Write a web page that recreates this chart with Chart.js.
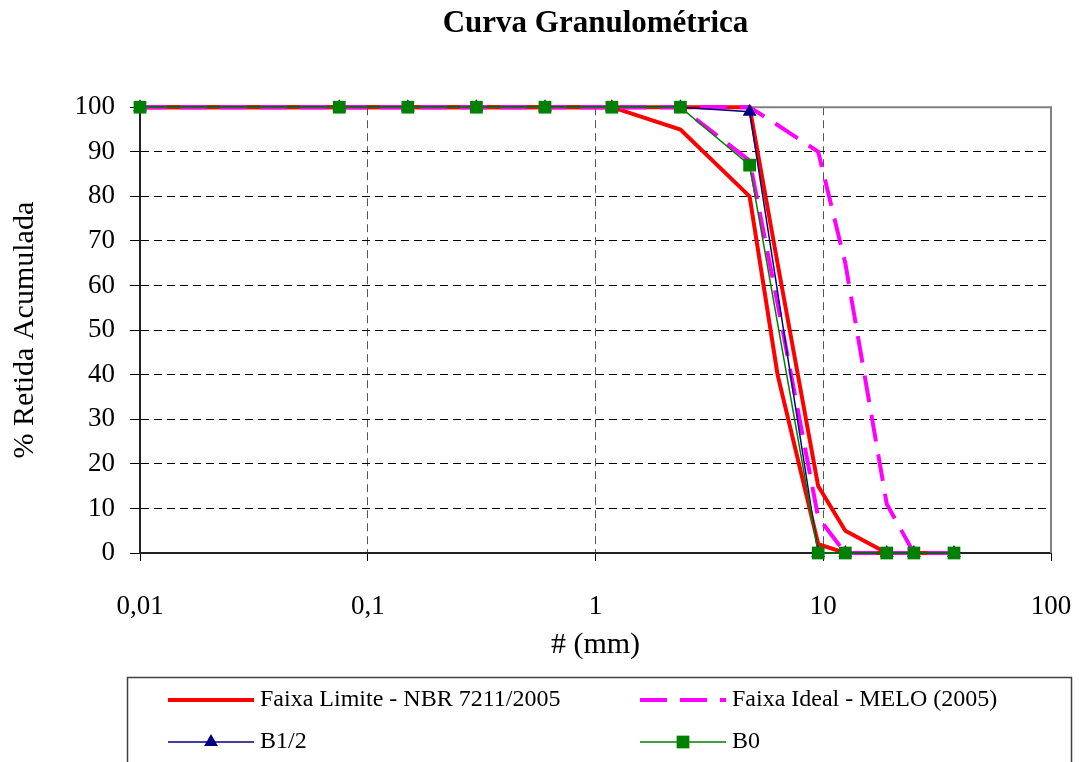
<!DOCTYPE html>
<html>
<head>
<meta charset="utf-8">
<title>Curva Granulométrica</title>
<script src="https://cdn.jsdelivr.net/npm/chart.js@4.4.0/dist/chart.umd.min.js"></script>
<style>
  body { margin: 0; background: #fff; }
  #wrap { width: 1081px; height: 762px; }
</style>
</head>
<body>
<div id="wrap"><canvas id="curva" width="1081" height="762"></canvas></div>
<script>
// sieve openings (mm)
const sampleSieves = [0.01, 0.075, 0.15, 0.3, 0.6, 1.18, 2.36, 4.75, 9.5, 12.5, 19, 25, 37.5];
const bandSieves = [0.01, 0.075, 0.15, 0.3, 0.6, 1.18, 2.36, 4.75, 6.3, 9.5, 12.5, 19, 25, 37.5];

// % retida acumulada
const b0 = [100, 100, 100, 100, 100, 100, 100, 87, 0, 0, 0, 0, 0];
const b12 = [100, 100, 100, 100, 100, 100, 100, 99, 0, 0, 0, 0, 0];
const limitLower = [100, 100, 100, 100, 100, 100, 95, 80, 40, 2, 0, 0, 0, 0];
const limitUpper = [100, 100, 100, 100, 100, 100, 100, 100, 65, 15, 5, 0, 0, 0];
const idealLower = [100, 100, 100, 100, 100, 100, 100, 88, 56, 8, 0, 0, 0, 0];
const idealUpper = [100, 100, 100, 100, 100, 100, 100, 100, 96, 90, 65, 11, 0, 0];

const xTicks = [0.01, 0.1, 1, 10, 100];

const serif = "'Liberation Serif', 'Times New Roman', serif";

function pts(xs, ys) {
    return xs.map((x, i) => ({ x: x, y: ys[i] }));
}

// legend: label, dataset index, column, row
const legendEntries = [
    { text: 'Faixa Limite - NBR 7211/2005', ds: 4, col: 0, row: 0 },
    { text: 'Faixa Ideal - MELO (2005)', ds: 2, col: 1, row: 0 },
    { text: 'B1/2', ds: 1, col: 0, row: 1 },
    { text: 'B0', ds: 0, col: 1, row: 1 }
];

const boxLegend = {
    id: 'boxLegend',
    afterDraw(chart) {
        const ctx = chart.ctx;
        const colX = [168, 640];
        const rowY = [700, 742];
        ctx.save();
        ctx.strokeStyle = '#404040';
        ctx.lineWidth = 1.5;
        ctx.strokeRect(127.5, 677.5, 944, 120);

        legendEntries.forEach(item => {
            const ds = chart.data.datasets[item.ds];
            const x = colX[item.col];
            const y = rowY[item.row];
            ctx.strokeStyle = ds.borderColor;
            ctx.lineWidth = ds.borderWidth;
            ctx.setLineDash(ds.borderDash || []);
            ctx.beginPath();
            ctx.moveTo(x, y);
            ctx.lineTo(x + 86, y);
            ctx.stroke();
            ctx.setLineDash([]);

            const cx = x + 43;
            ctx.fillStyle = ds.pointBackgroundColor || ds.borderColor;
            if (ds.pointRadius > 0 && ds.pointStyle === 'rect') {
                const s = ds.pointRadius * Math.SQRT1_2;
                ctx.fillRect(cx - s, y - s, s * 2, s * 2);
            } else if (ds.pointRadius > 0 && ds.pointStyle === 'triangle') {
                const r = ds.pointRadius;
                ctx.beginPath();
                ctx.moveTo(cx, y - r);
                ctx.lineTo(cx + r * 0.866, y + r * 0.5);
                ctx.lineTo(cx - r * 0.866, y + r * 0.5);
                ctx.closePath();
                ctx.fill();
            }

            ctx.fillStyle = '#000';
            ctx.font = '24px ' + serif;
            ctx.textAlign = 'left';
            ctx.textBaseline = 'middle';
            ctx.fillText(item.text, x + 92, y);
        });
        ctx.restore();
    }
};

// gray frame on top and right of plot area
const plotFrame = {
    id: 'plotFrame',
    beforeDatasetsDraw(chart) {
        const a = chart.chartArea;
        const ctx = chart.ctx;
        ctx.save();
        ctx.strokeStyle = '#808080';
        ctx.lineWidth = 2;
        ctx.beginPath();
        ctx.moveTo(a.left, a.top);
        ctx.lineTo(a.right, a.top);
        ctx.lineTo(a.right, a.bottom);
        ctx.stroke();
        ctx.restore();
    }
};

Chart.defaults.font.family = serif;
Chart.defaults.color = '#000';

new Chart(document.getElementById('curva'), {
    type: 'line',
    data: {
        datasets: [
            {
                label: 'B0',
                data: pts(sampleSieves, b0),
                borderColor: '#008000',
                backgroundColor: '#008000',
                pointBackgroundColor: '#008000',
                pointBorderColor: '#008000',
                borderWidth: 1.5,
                pointStyle: 'rect',
                pointRadius: 9,
                pointBorderWidth: 0,
                order: 0
            },
            {
                label: 'B1/2',
                data: pts(sampleSieves, b12),
                borderColor: '#000080',
                backgroundColor: '#000080',
                pointBackgroundColor: '#000080',
                pointBorderColor: '#000080',
                borderWidth: 1.5,
                pointStyle: 'triangle',
                pointRadius: 8,
                pointBorderWidth: 0,
                order: 1
            },
            {
                label: 'Faixa Ideal - MELO (2005)',
                data: pts(bandSieves, idealUpper),
                borderColor: '#ff00ff',
                borderWidth: 4,
                borderDash: [27, 13],
                pointRadius: 0,
                order: 2
            },
            {
                label: 'Faixa Ideal inf',
                data: pts(bandSieves, idealLower),
                borderColor: '#ff00ff',
                borderWidth: 4,
                borderDash: [27, 13],
                pointRadius: 0,
                order: 3
            },
            {
                label: 'Faixa Limite - NBR 7211/2005',
                data: pts(bandSieves, limitUpper),
                borderColor: '#ff0000',
                borderWidth: 4,
                pointRadius: 0,
                order: 4
            },
            {
                label: 'Faixa Limite inf',
                data: pts(bandSieves, limitLower),
                borderColor: '#ff0000',
                borderWidth: 4,
                pointRadius: 0,
                order: 5
            }
        ]
    },
    options: {
        responsive: false,
        animation: false,
        clip: false,
        datasets: { line: { tension: 0, clip: false } },
        layout: { padding: { left: 0, right: 30, top: 0, bottom: 99 } },
        plugins: {
            legend: { display: false },
            tooltip: { enabled: false },
            title: {
                display: true,
                fullSize: false,
                text: 'Curva Granulométrica',
                font: { size: 31, weight: 'bold', family: serif },
                color: '#000',
                padding: { top: 5, bottom: 65 }
            }
        },
        scales: {
            x: {
                type: 'logarithmic',
                min: 0.01,
                max: 100,
                afterBuildTicks: scale => {
                    scale.ticks = xTicks.map(v => ({ value: v }));
                },
                afterFit: scale => {
                    scale.height = 110;
                    scale.paddingLeft = 0;
                    scale.paddingRight = 0;
                },
                ticks: {
                    autoSkip: false,
                    maxRotation: 0,
                    padding: 30,
                    font: { size: 27 },
                    callback: v => String(v).replace('.', ',')
                },
                grid: {
                    color: '#555',
                    lineWidth: 1,
                    tickLength: 8,
                    tickColor: '#000',
                    tickBorderDash: [],
                    tickWidth: 1
                },
                border: { display: true, color: '#222', width: 2, dash: [8, 5] },
                title: {
                    display: true,
                    text: '# (mm)',
                    font: { size: 30 },
                    padding: { top: 0, bottom: 0 }
                }
            },
            y: {
                min: 0,
                max: 100,
                afterFit: scale => { scale.width = 140; },
                ticks: {
                    stepSize: 10,
                    padding: 15,
                    font: { size: 27 }
                },
                grid: {
                    color: '#000',
                    lineWidth: 1,
                    tickLength: 10,
                    tickColor: '#000',
                    tickBorderDash: [],
                    tickWidth: 1
                },
                border: { display: true, color: '#222', width: 2, dash: [8, 5] },
                title: {
                    display: true,
                    text: '% Retida Acumulada',
                    font: { size: 30 },
                    padding: { top: 7, bottom: 0 }
                }
            }
        }
    },
    plugins: [plotFrame, boxLegend]
});
</script>
</body>
</html>
